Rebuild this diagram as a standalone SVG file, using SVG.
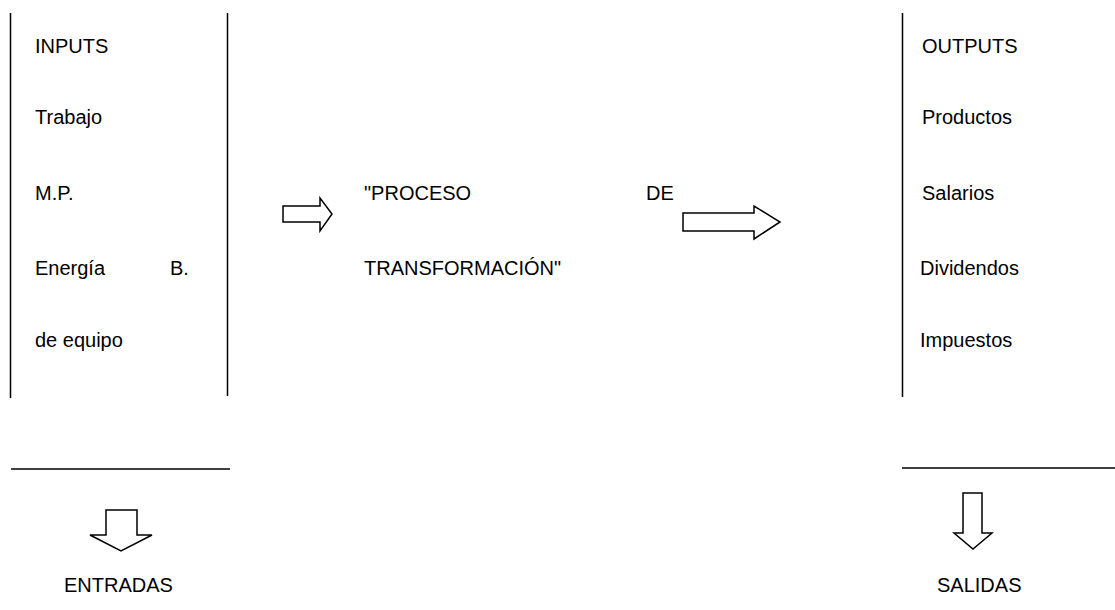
<svg xmlns="http://www.w3.org/2000/svg" width="1115" height="610" viewBox="0 0 1115 610">
<style>
text{font-family:"Liberation Sans",Arial,sans-serif;font-size:20px;fill:#000}
.ln{stroke:#000;stroke-width:1.5;fill:none}
.ar{stroke:#000;stroke-width:1.5;fill:#fff;stroke-linejoin:miter}
</style>
<rect width="1115" height="610" fill="#fff"/>
<g id="inputs">
<line class="ln" x1="10.5" y1="13" x2="10.5" y2="398"/>
<line class="ln" x1="227.5" y1="13" x2="227.5" y2="396"/>
<text x="35" y="53">INPUTS</text>
<text x="35" y="124">Trabajo</text>
<text x="35" y="200">M.P.</text>
<text x="35" y="275">Energía</text>
<text x="170" y="275">B.</text>
<text x="35" y="347">de equipo</text>
</g>
<g id="process">
<text x="364" y="200">"PROCESO</text>
<text x="646" y="200">DE</text>
<text x="364" y="275">TRANSFORMACIÓN"</text>
</g>
<g id="outputs">
<line class="ln" x1="902.5" y1="13" x2="902.5" y2="397"/>
<text x="922" y="53">OUTPUTS</text>
<text x="922" y="124">Productos</text>
<text x="922" y="200">Salarios</text>
<text x="920" y="275">Dividendos</text>
<text x="920" y="347">Impuestos</text>
</g>
<g id="entradas">
<line class="ln" x1="11" y1="469" x2="230" y2="469"/>
<text x="64" y="592">ENTRADAS</text>
</g>
<g id="salidas">
<line class="ln" x1="902" y1="468" x2="1115" y2="468"/>
<text x="937" y="592">SALIDAS</text>
</g>
<g id="connectors">
<polygon class="ar" points="283,206 320,206 320,198 332,214 320,231 320,222 283,222"/>
<polygon class="ar" points="683,213 754,213 754,206 780,222 754,239 754,231 683,231"/>
<polygon class="ar" points="106,510 137,510 137,535 152,535 121,551 90,535 106,535"/>
<polygon class="ar" points="963,493 982,493 982,533 992,533 973,549 954,533 963,533"/>
</g>
</svg>
